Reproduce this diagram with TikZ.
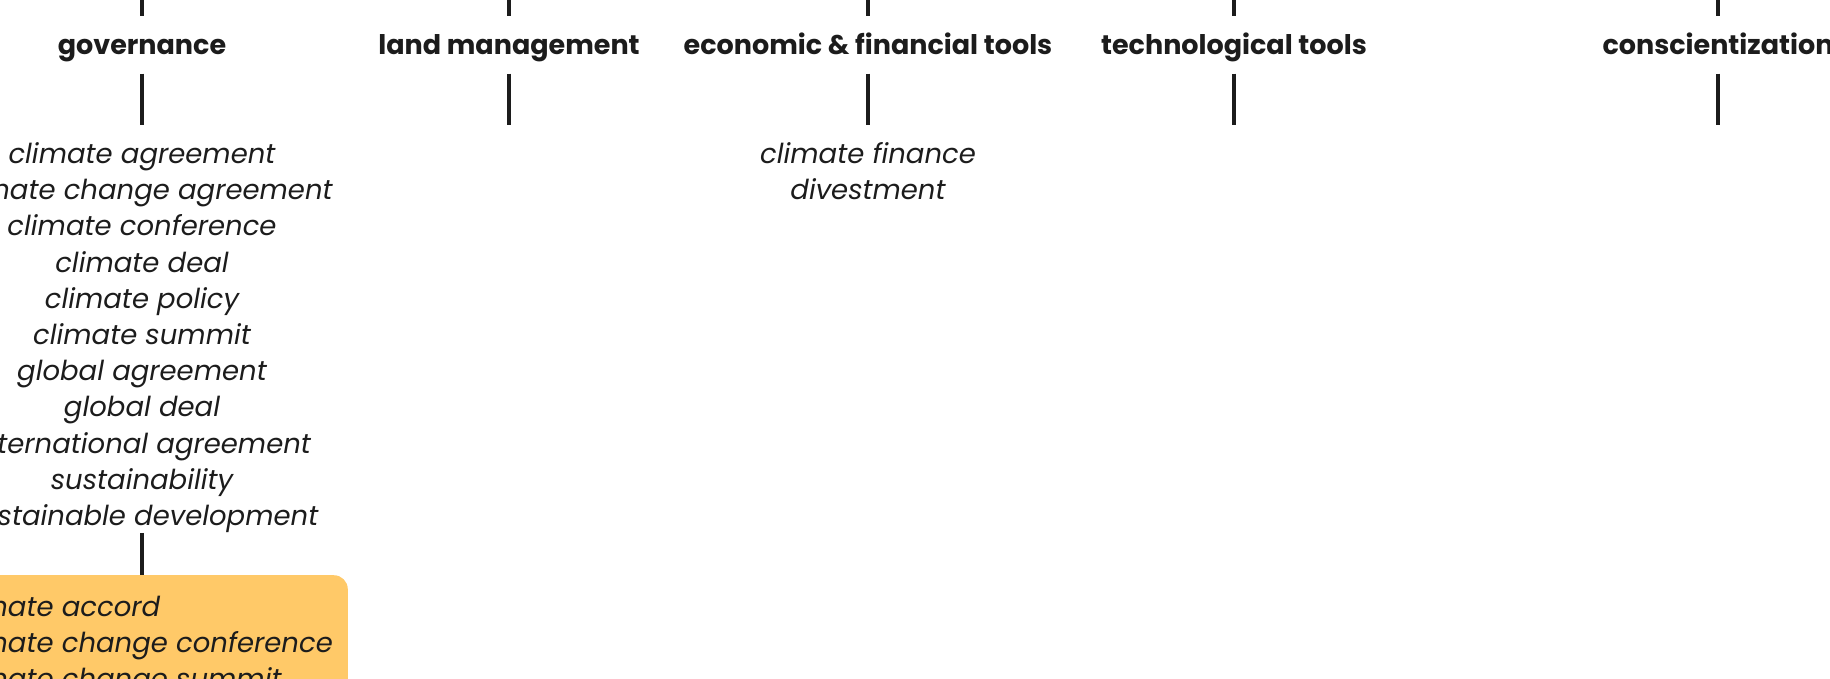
\documentclass[tikz,border=0pt]{standalone}
\usepackage{fontspec}
\setmainfont{Poppins}
\definecolor{ink}{HTML}{1C1C1C}
\definecolor{boxfill}{HTML}{FFC968}
\tikzset{
  head/.style={font=\bfseries\fontsize{27}{32}\selectfont, text=ink, anchor=base,
    inner sep=0pt, text height=20pt, text depth=7pt},
  terms/.style={font=\itshape\fontsize{27.5}{36.2}\selectfont, text=ink, align=center,
    anchor=base, inner sep=0pt},
  link/.style={line width=3.2pt, draw=ink},
}
\begin{document}
\begin{tikzpicture}[x=1pt, y=-1pt]
  \useasboundingbox (0,0) rectangle (1830,678);
  \clip (0,0) rectangle (1830,678);
  % headings
  \node[head] (gov) at (142,54.5) {governance};
  \node[head] (land) at (509,54.5) {land management};
  \node[head] (econ) at (868,54.5) {economic \& financial tools};
  \node[head] (tech) at (1234,54.5) {technological tools};
  \node[head] (consc) at (1718,54.5) {conscientization};
  % stubs from above
  \coordinate (govin) at (142,-2);
  \coordinate (landin) at (509,-2);
  \coordinate (econin) at (868,-2);
  \coordinate (techin) at (1234,-2);
  \coordinate (conscin) at (1718,-2);
  \draw[link, shorten >=18pt] (govin) -- (gov);
  \draw[link, shorten >=18pt] (landin) -- (land);
  \draw[link, shorten >=18pt] (econin) -- (econ);
  \draw[link, shorten >=18pt] (techin) -- (tech);
  \draw[link, shorten >=18pt] (conscin) -- (consc);
  % lines below
  \coordinate (govend) at (142,125);
  \coordinate (landend) at (509,125);
  \coordinate (econend) at (868,125);
  \coordinate (techend) at (1234,125);
  \coordinate (conscend) at (1718,125);
  \draw[link, shorten <=12pt] (gov) -- (govend);
  \draw[link, shorten <=12pt] (land) -- (landend);
  \draw[link, shorten <=12pt] (econ) -- (econend);
  \draw[link, shorten <=12pt] (tech) -- (techend);
  \draw[link, shorten <=12pt] (consc) -- (conscend);
  % term lists (base = baseline of last line)
  \node[terms] (govlist) at (142,525.5) {climate agreement\\climate change agreement\\
    climate conference\\climate deal\\climate policy\\climate summit\\global agreement\\
    global deal\\international agreement\\sustainability\\sustainable development};
  \node[terms] (econlist) at (868,199.5) {climate finance\\divestment};
  % highlighted box
  \node[terms, anchor=north east, align=left, fill=boxfill, rounded corners=14pt,
    inner xsep=15pt, inner ysep=20pt] (box) at (348,575)
    {climate accord\\climate change conference\\climate change summit};
  \draw[link] (govlist.south) -- (govlist.south |- box.north);
\end{tikzpicture}
\end{document}
